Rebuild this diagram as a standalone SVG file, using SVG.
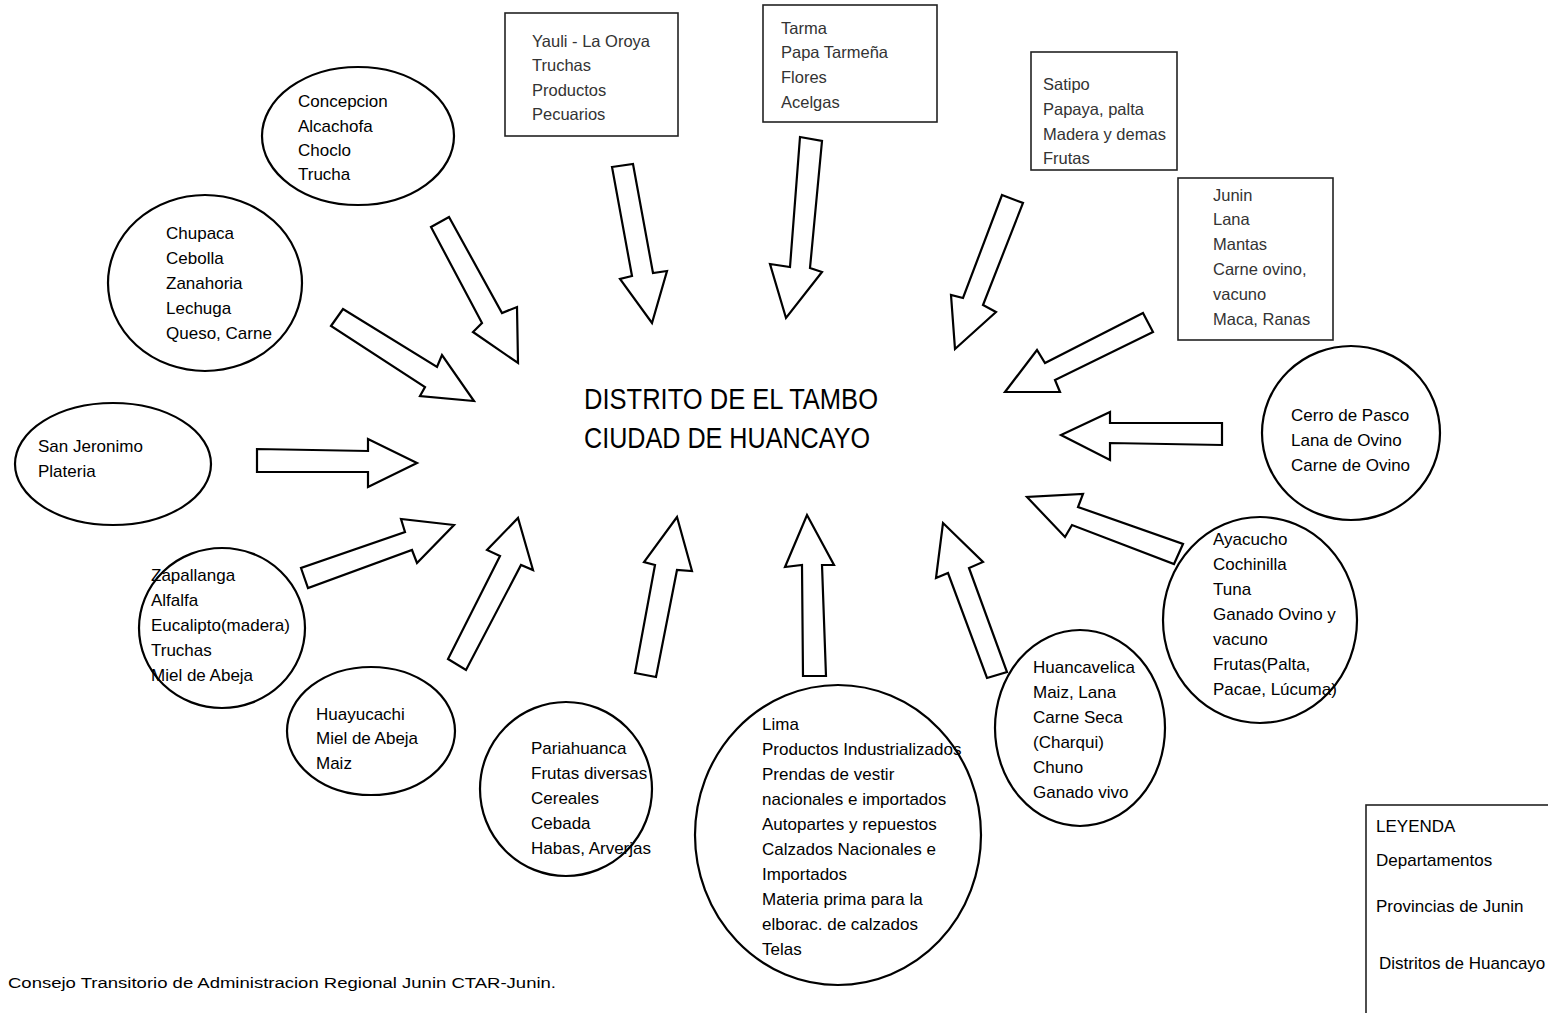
<svg xmlns="http://www.w3.org/2000/svg" width="1548" height="1013" viewBox="0 0 1548 1013">
<style>
.n{fill:#fff;stroke:#000;stroke-width:2.2}
.b{fill:#fff;stroke:#222;stroke-width:1.6}
.a{fill:#fff;stroke:#000;stroke-width:2.2;stroke-linejoin:miter}
.t{font-family:"Liberation Sans",Arial,sans-serif;font-size:17px;fill:#000}
.g{font-family:"Liberation Sans",Arial,sans-serif;font-size:16.5px;fill:#333}
.h{font-family:"Liberation Sans",Arial,sans-serif;font-size:30px;fill:#000}
.f{font-family:"Liberation Sans",Arial,sans-serif;font-size:14px;fill:#000}
</style>
<rect width="1548" height="1013" fill="#fff"/>
<g id="connectors">
<polygon class="a" points="431,227 449,217 502,313 517,307 518,363 473,332 482,323"/>
<polygon class="a" points="612,167 633,164 653,273 667,271 652,323 620,279 632,276"/>
<polygon class="a" points="800,137 822,141 810,268 822,272 786,318 770,264 790,267"/>
<polygon class="a" points="1002,195 1023,203 983,305 996,312 955,349 951,295 963,298"/>
<polygon class="a" points="1143,313 1153,332 1055,380 1060,392 1005,392 1037,350 1045,363"/>
<polygon class="a" points="331,326 343,309 437,367 442,355 474,401 420,396 425,387"/>
<polygon class="a" points="257,449 257,472 368,472 368,487 417,463 368,439 368,451"/>
<polygon class="a" points="301,568 308,588 412,550 417,563 454,525 401,519 405,532"/>
<polygon class="a" points="448,659 466,670 521,565 533,570 518,518 487,550 500,556"/>
<polygon class="a" points="635,673 656,677 677,570 692,571 677,517 644,562 655,565"/>
<polygon class="a" points="803,676 826,676 822,565 834,565 807,515 785,567 802,565"/>
<polygon class="a" points="987,678 1007,672 969,568 983,562 943,523 936,578 948,573"/>
<polygon class="a" points="1222,423 1222,445 1110,443 1110,460 1061,435 1110,412 1110,423"/>
<polygon class="a" points="1183,544 1174,564 1072,525 1065,537 1027,497 1083,494 1078,507"/>
</g>
<g id="title">
<text class="h" x="584" y="409" textLength="294" lengthAdjust="spacingAndGlyphs">DISTRITO DE EL TAMBO</text>
<text class="h" x="584" y="448" textLength="286" lengthAdjust="spacingAndGlyphs">CIUDAD DE HUANCAYO</text>
</g>
<g id="concepcion">
<ellipse class="n" cx="358" cy="136" rx="96" ry="69"/>
<text class="t" x="298" y="107">Concepcion</text>
<text class="t" x="298" y="132">Alcachofa</text>
<text class="t" x="298" y="156">Choclo</text>
<text class="t" x="298" y="180">Trucha</text>
</g>
<g id="chupaca">
<ellipse class="n" cx="205" cy="283" rx="97" ry="88"/>
<text class="t" x="166" y="239">Chupaca</text>
<text class="t" x="166" y="264">Cebolla</text>
<text class="t" x="166" y="289">Zanahoria</text>
<text class="t" x="166" y="314">Lechuga</text>
<text class="t" x="166" y="339">Queso, Carne</text>
</g>
<g id="sanjeronimo">
<ellipse class="n" cx="113" cy="464" rx="98" ry="61"/>
<text class="t" x="38" y="452">San Jeronimo</text>
<text class="t" x="38" y="477">Plateria</text>
</g>
<g id="zapallanga">
<ellipse class="n" cx="222" cy="628" rx="83" ry="80"/>
<text class="t" x="151" y="581">Zapallanga</text>
<text class="t" x="151" y="606">Alfalfa</text>
<text class="t" x="151" y="631">Eucalipto(madera)</text>
<text class="t" x="151" y="656">Truchas</text>
<text class="t" x="151" y="681">Miel de Abeja</text>
</g>
<g id="huayucachi">
<ellipse class="n" cx="371" cy="731" rx="84" ry="64"/>
<text class="t" x="316" y="720">Huayucachi</text>
<text class="t" x="316" y="744">Miel de Abeja</text>
<text class="t" x="316" y="769">Maiz</text>
</g>
<g id="pariahuanca">
<ellipse class="n" cx="566" cy="789" rx="86" ry="87"/>
<text class="t" x="531" y="754">Pariahuanca</text>
<text class="t" x="531" y="779">Frutas diversas</text>
<text class="t" x="531" y="804">Cereales</text>
<text class="t" x="531" y="829">Cebada</text>
<text class="t" x="531" y="854">Habas, Arverjas</text>
</g>
<g id="lima">
<ellipse class="n" cx="838" cy="835" rx="143" ry="150"/>
<text class="t" x="762" y="730">Lima</text>
<text class="t" x="762" y="755">Productos Industrializados</text>
<text class="t" x="762" y="780">Prendas de vestir</text>
<text class="t" x="762" y="805">nacionales e importados</text>
<text class="t" x="762" y="830">Autopartes y repuestos</text>
<text class="t" x="762" y="855">Calzados Nacionales e</text>
<text class="t" x="762" y="880">Importados</text>
<text class="t" x="762" y="905">Materia prima para la</text>
<text class="t" x="762" y="930">elborac. de calzados</text>
<text class="t" x="762" y="955">Telas</text>
</g>
<g id="huancavelica">
<ellipse class="n" cx="1080" cy="728" rx="85" ry="98"/>
<text class="t" x="1033" y="673">Huancavelica</text>
<text class="t" x="1033" y="698">Maiz, Lana</text>
<text class="t" x="1033" y="723">Carne Seca</text>
<text class="t" x="1033" y="748">(Charqui)</text>
<text class="t" x="1033" y="773">Chuno</text>
<text class="t" x="1033" y="798">Ganado vivo</text>
</g>
<g id="ayacucho">
<ellipse class="n" cx="1260" cy="620" rx="97" ry="103"/>
<text class="t" x="1213" y="545">Ayacucho</text>
<text class="t" x="1213" y="570">Cochinilla</text>
<text class="t" x="1213" y="595">Tuna</text>
<text class="t" x="1213" y="620">Ganado Ovino y</text>
<text class="t" x="1213" y="645">vacuno</text>
<text class="t" x="1213" y="670">Frutas(Palta,</text>
<text class="t" x="1213" y="695">Pacae, Lúcuma)</text>
</g>
<g id="cerrodepasco">
<ellipse class="n" cx="1351" cy="433" rx="89" ry="87"/>
<text class="t" x="1291" y="421">Cerro de Pasco</text>
<text class="t" x="1291" y="446">Lana de Ovino</text>
<text class="t" x="1291" y="471">Carne de Ovino</text>
</g>
<g id="yauli">
<rect class="b" x="505" y="13" width="173" height="123"/>
<text class="g" x="532" y="47">Yauli - La Oroya</text>
<text class="g" x="532" y="71">Truchas</text>
<text class="g" x="532" y="96">Productos</text>
<text class="g" x="532" y="120">Pecuarios</text>
</g>
<g id="tarma">
<rect class="b" x="763" y="5" width="174" height="117"/>
<text class="g" x="781" y="34">Tarma</text>
<text class="g" x="781" y="58">Papa Tarmeña</text>
<text class="g" x="781" y="83">Flores</text>
<text class="g" x="781" y="108">Acelgas</text>
</g>
<g id="satipo">
<rect class="b" x="1031" y="52" width="146" height="118"/>
<text class="g" x="1043" y="90">Satipo</text>
<text class="g" x="1043" y="115">Papaya, palta</text>
<text class="g" x="1043" y="140">Madera y demas</text>
<text class="g" x="1043" y="164">Frutas</text>
</g>
<g id="junin">
<rect class="b" x="1178" y="178" width="155" height="162"/>
<text class="g" x="1213" y="201">Junin</text>
<text class="g" x="1213" y="225">Lana</text>
<text class="g" x="1213" y="250">Mantas</text>
<text class="g" x="1213" y="275">Carne ovino,</text>
<text class="g" x="1213" y="300">vacuno</text>
<text class="g" x="1213" y="325">Maca, Ranas</text>
</g>
<g id="legend">
<rect class="b" x="1366" y="805" width="200" height="230"/>
<text class="t" x="1376" y="832">LEYENDA</text>
<text class="t" x="1376" y="866">Departamentos</text>
<text class="t" x="1376" y="912">Provincias de Junin</text>
<text class="t" x="1379" y="969">Distritos de Huancayo</text>
</g>
<text class="f" x="8" y="988" textLength="548" lengthAdjust="spacingAndGlyphs">Consejo Transitorio de Administracion Regional Junin CTAR-Junin.</text>
</svg>
